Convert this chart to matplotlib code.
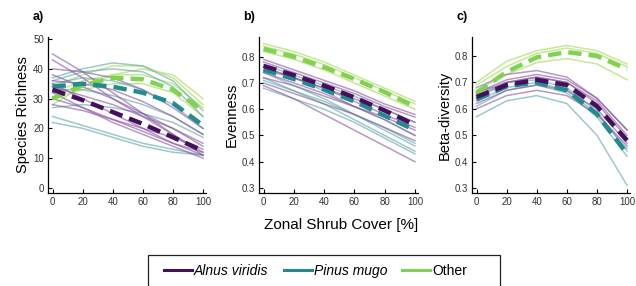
import numpy as np
import matplotlib.pyplot as plt
from matplotlib.lines import Line2D
from matplotlib.patches import Rectangle

plt.rcParams['font.family'] = ['Liberation Sans', 'DejaVu Sans']

# Zonal shrub cover (%)
x = [0, 20, 40, 60, 80, 100]

# Colours per group
purple = '#44105e'
teal = '#238a8d'
green = '#7fd34e'
purple_thin = '#8a55a0'
teal_thin = '#5aa5aa'
green_thin = '#b8e27c'

# ---- a) Species richness ----
rich_mean_alnus = [33, 29.5, 25.5, 21.5, 17, 12.5]
rich_mean_pinus = [34, 35, 34, 32, 28.5, 21]
rich_mean_other = [30, 34.5, 37, 36.5, 33, 26]
rich_alnus = [
    [45, 39, 32, 25, 18, 11],
    [43, 37, 30, 24, 18, 12],
    [38, 34, 30, 25, 20, 14],
    [35, 30, 25, 20, 15, 11],
    [32, 27, 22, 18, 14, 10],
    [30, 27, 23, 19, 15, 12],
    [28, 26, 23, 20, 17, 13],
    [36, 35, 33, 29, 24, 18],
    [40, 39, 37, 33, 27, 20],
    [34, 31, 28, 24, 20, 15],
]
rich_pinus = [
    [37, 40, 42, 41, 36, 26],
    [36, 39, 40, 39, 34, 24],
    [35, 37, 36, 33, 28, 20],
    [33, 33, 31, 28, 24, 18],
    [24, 21, 18, 15, 13, 11],
    [22, 20, 17, 14, 12, 11],
    [27, 28, 27, 25, 22, 17],
]
rich_other = [
    [28, 34, 38, 40, 38, 30],
    [32, 36, 38, 38, 35, 27],
    [30, 33, 35, 35, 32, 24],
    [34, 38, 41, 41, 37, 28],
]

# ---- b) Evenness ----
even_mean_alnus = [0.765, 0.73, 0.69, 0.645, 0.595, 0.54]
even_mean_pinus = [0.75, 0.715, 0.675, 0.63, 0.575, 0.52]
even_mean_other = [0.83, 0.80, 0.76, 0.715, 0.665, 0.61]
even_alnus = [
    [0.79, 0.75, 0.71, 0.67, 0.62, 0.58],
    [0.78, 0.74, 0.70, 0.66, 0.61, 0.57],
    [0.76, 0.72, 0.68, 0.63, 0.58, 0.53],
    [0.75, 0.72, 0.68, 0.64, 0.60, 0.55],
    [0.74, 0.70, 0.66, 0.61, 0.56, 0.50],
    [0.72, 0.69, 0.65, 0.61, 0.57, 0.52],
    [0.70, 0.66, 0.62, 0.58, 0.53, 0.48],
    [0.69, 0.64, 0.58, 0.52, 0.46, 0.40],
]
even_pinus = [
    [0.76, 0.72, 0.67, 0.61, 0.56, 0.50],
    [0.74, 0.69, 0.64, 0.58, 0.52, 0.46],
    [0.72, 0.67, 0.62, 0.56, 0.50, 0.44],
    [0.68, 0.64, 0.60, 0.55, 0.49, 0.43],
    [0.71, 0.67, 0.63, 0.58, 0.53, 0.47],
    [0.77, 0.73, 0.69, 0.65, 0.60, 0.55],
]
even_other = [
    [0.84, 0.81, 0.77, 0.72, 0.67, 0.62],
    [0.82, 0.79, 0.75, 0.70, 0.65, 0.60],
    [0.85, 0.82, 0.78, 0.73, 0.68, 0.63],
]

# ---- c) Beta-diversity ----
beta_mean_alnus = [0.645, 0.69, 0.71, 0.69, 0.61, 0.48]
beta_mean_pinus = [0.635, 0.685, 0.70, 0.67, 0.58, 0.43]
beta_mean_other = [0.66, 0.74, 0.795, 0.815, 0.80, 0.75]
beta_alnus = [
    [0.68, 0.73, 0.745, 0.72, 0.64, 0.52],
    [0.66, 0.71, 0.73, 0.71, 0.64, 0.52],
    [0.62, 0.67, 0.69, 0.67, 0.60, 0.47],
    [0.60, 0.65, 0.67, 0.65, 0.58, 0.46],
    [0.64, 0.70, 0.72, 0.70, 0.63, 0.50],
    [0.66, 0.70, 0.72, 0.70, 0.62, 0.49],
]
beta_pinus = [
    [0.57, 0.63, 0.65, 0.62, 0.50, 0.31],
    [0.61, 0.67, 0.69, 0.66, 0.57, 0.42],
    [0.65, 0.70, 0.71, 0.68, 0.59, 0.44],
    [0.63, 0.68, 0.70, 0.67, 0.58, 0.45],
]
beta_other = [
    [0.69, 0.76, 0.81, 0.83, 0.81, 0.76],
    [0.67, 0.73, 0.775, 0.79, 0.77, 0.71],
    [0.70, 0.78, 0.82, 0.84, 0.82, 0.77],
]

panels = [
    ('a)', 'Species Richness', rich_alnus, rich_pinus, rich_other,
     rich_mean_alnus, rich_mean_pinus, rich_mean_other,
     (-1.7, 50.7), [0, 10, 20, 30, 40, 50], [48, 206]),
    ('b)', 'Evenness', even_alnus, even_pinus, even_other,
     even_mean_alnus, even_mean_pinus, even_mean_other,
     (0.281, 0.875), [0.3, 0.4, 0.5, 0.6, 0.7, 0.8], [259, 418]),
    ('c)', 'Beta-diversity', beta_alnus, beta_pinus, beta_other,
     beta_mean_alnus, beta_mean_pinus, beta_mean_other,
     (0.281, 0.872), [0.3, 0.4, 0.5, 0.6, 0.7, 0.8], [472, 630]),
]

W, H = 636, 286
fig = plt.figure(figsize=(W / 100, H / 100), dpi=100)

for lab, ylab, al, pi, ot, m_al, m_pi, m_ot, ylim, yt, (px0, px1) in panels:
    ax = fig.add_axes([px0 / W, 1 - 193 / H, (px1 - px0) / W, (193 - 37) / H])
    for ys in ot:
        ax.plot(x, ys, color=green_thin, lw=1.1, alpha=0.8)
    for ys in pi:
        ax.plot(x, ys, color=teal_thin, lw=1.1, alpha=0.6)
    for ys in al:
        ax.plot(x, ys, color=purple_thin, lw=1.1, alpha=0.6)
    ax.plot(x, m_ot, color=green, lw=3.2, dashes=(3, 1.6))
    ax.plot(x, m_pi, color=teal, lw=3.2, dashes=(3, 1.6))
    ax.plot(x, m_al, color=purple, lw=3.2, dashes=(3, 1.6))

    ax.set_xlim(-3, 102)
    ax.set_ylim(*ylim)
    ax.set_xticks([0, 20, 40, 60, 80, 100])
    ax.set_yticks(yt)
    ax.tick_params(direction='in', length=3, width=0.8, labelsize=7,
                   labelcolor='#333333', pad=3)
    for s in ['top', 'right']:
        ax.spines[s].set_visible(False)
    for s in ['left', 'bottom']:
        ax.spines[s].set_linewidth(0.9)
    ax.set_ylabel(ylab, fontsize=10.5, labelpad=2)
    ax.text(-0.10, 1.13, lab, transform=ax.transAxes, fontsize=9,
            fontweight='bold', ha='left', va='center')

fig.text(341 / W, 1 - 225 / H, 'Zonal Shrub Cover [%]', fontsize=11,
         ha='center', va='center')

# legend box (runs off the bottom edge as in the original)
fig.patches.append(Rectangle((148 / W, -0.05), (500 - 148) / W,
                             1 - 255 / H + 0.05, transform=fig.transFigure,
                             fill=False, edgecolor='#222222', lw=0.9))
handles = [Line2D([], [], color=purple, lw=2.2),
           Line2D([], [], color=teal, lw=2.2),
           Line2D([], [], color=green, lw=2.2)]
leg = fig.legend(handles, ['Alnus viridis', 'Pinus mugo', 'Other'],
                 loc='center left', bbox_to_anchor=(153 / W, 1 - 271 / H),
                 ncol=3, frameon=False, fontsize=10,
                 handlelength=2.0, handletextpad=0.15, columnspacing=1.1,
                 borderpad=0.3)
leg.get_texts()[0].set_style('italic')
leg.get_texts()[1].set_style('italic')

fig.savefig('out.png', dpi=100)
